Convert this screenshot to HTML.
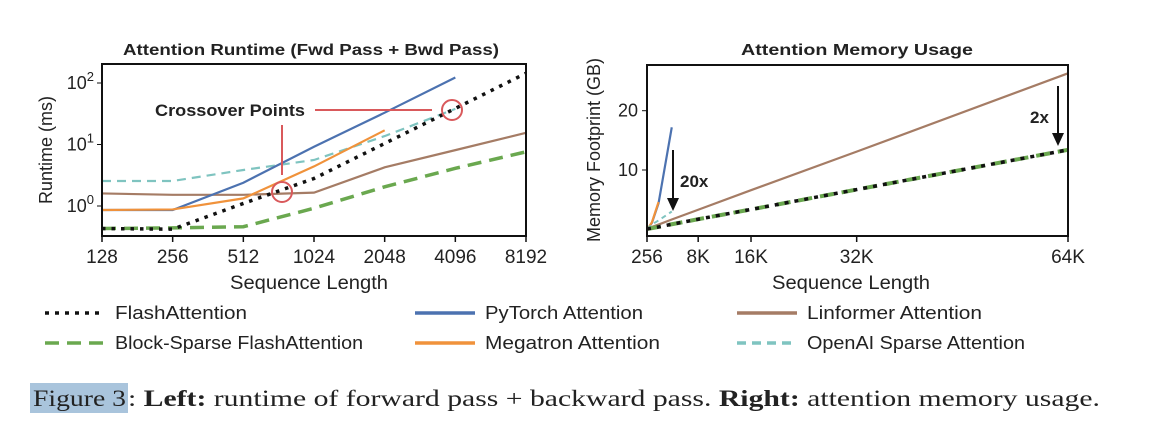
<!DOCTYPE html>
<html><head><meta charset="utf-8"><style>
body{margin:0;background:#fff;width:1150px;height:430px;overflow:hidden}
svg text{font-family:"Liberation Sans",sans-serif;fill:#222}
</style></head><body>
<svg width="1150" height="430" id="fig">
<text x="311" y="55" text-anchor="middle" font-weight="bold" font-size="16" textLength="376" lengthAdjust="spacingAndGlyphs">Attention Runtime (Fwd Pass + Bwd Pass)</text>
<text x="857" y="55" text-anchor="middle" font-weight="bold" font-size="16" textLength="232" lengthAdjust="spacingAndGlyphs">Attention Memory Usage</text>
<g id="L"></g><g id="R"></g>
<text x="309" y="289" text-anchor="middle" font-size="19" textLength="158" lengthAdjust="spacingAndGlyphs">Sequence Length</text>
<text x="851" y="289" text-anchor="middle" font-size="19" textLength="158" lengthAdjust="spacingAndGlyphs">Sequence Length</text>
<text transform="translate(52,150) rotate(-90)" text-anchor="middle" font-size="18">Runtime (ms)</text>
<text transform="translate(600,150) rotate(-90)" text-anchor="middle" font-size="18">Memory Footprint (GB)</text>
<g stroke="#d9595b" stroke-width="2" fill="none">
<line x1="315" y1="110" x2="432" y2="110"/><circle cx="452" cy="110" r="10"/>
<line x1="282" y1="125" x2="282" y2="175"/><circle cx="282" cy="192" r="10"/>
</g>
<text x="230" y="116" text-anchor="middle" font-weight="bold" font-size="17" textLength="150" lengthAdjust="spacingAndGlyphs">Crossover Points</text>
<g><line x1="673" y1="150" x2="673" y2="200" stroke="#111" stroke-width="2"/><path d="M667,198 L679,198 L673,211 Z" fill="#111"/></g>
<text x="680" y="187" font-weight="bold" font-size="17">20x</text>
<g><line x1="1058" y1="86" x2="1058" y2="135" stroke="#111" stroke-width="2"/><path d="M1052,133 L1064,133 L1058,146 Z" fill="#111"/></g>
<text x="1030" y="123" font-weight="bold" font-size="17">2x</text>
<g id="legend" font-size="18"></g>
<rect x="30" y="383" width="98" height="30" fill="#a9c4dc"/>
<text x="33" y="406" font-size="23" textLength="93" lengthAdjust="spacingAndGlyphs" style="font-family:'Liberation Serif',serif">Figure 3</text>
<text x="128" y="406" font-size="23" textLength="972" lengthAdjust="spacingAndGlyphs" style="font-family:'Liberation Serif',serif">: <tspan font-weight="bold">Left:</tspan> runtime of forward pass + backward pass. <tspan font-weight="bold">Right:</tspan> attention memory usage.</text>
</svg>
<script>
const NS="http://www.w3.org/2000/svg";
const seqL=[128,256,512,1024,2048,4096,8192];
const rtFlash=[0.43,0.42,1.1,2.8,10.4,38.6,144];
const rtBlock=[0.43,0.44,0.46,0.92,2.05,4.1,7.6];
const rtPytorch=[0.86,0.86,2.39,9.2,32.9,123];
const rtMegatron=[0.86,0.88,1.33,4.4,17];
const rtLinformer=[1.6,1.52,1.52,1.65,4.25,8.1,15.5];
const rtOpenAI=[2.55,2.55,3.85,5.6,13.7,38];
const yTicksL=[0,1,2];
const memSeqK=[0.25,0.5,1,2,4,8,16,32,64];
const memFlash=[0.05,0.1,0.2,0.4,0.85,1.7,3.35,6.7,13.4];
const memBlock=[0.05,0.1,0.2,0.4,0.85,1.7,3.35,6.7,13.4];
const memLinformer=[0.1,0.2,0.4,0.8,1.65,3.3,6.6,13.1,26.3];
const memPytorch=[0.1,0.3,1.1,4.4,17.2];
const memMegatron=[0.1,0.3,1.2,4.6];
const memOpenAI=[0.1,0.3,0.8,1.5,3.0];
const xTicksR=[0.25,8,16,32,64];
const xTickLabR=["256","8K","16K","32K","64K"];
const yTicksR=[10,20];
const C={flash:"#111",block:"#6aa84f",py:"#4c72b0",meg:"#f0923b",lin:"#a57c65",oai:"#7fc4c0"};
function el(t,a,p){const e=document.createElementNS(NS,t);for(const k in a)e.setAttribute(k,a[k]);p.appendChild(e);return e;}
const Lx0=102,Lx1=526,Ly0=64,Ly1=236;
const lx=v=>Lx0+(Math.log2(v)-7)/6*(Lx1-Lx0);
const ly=v=>206-Math.log10(v)*61.5;
const L=document.getElementById('L');
function line(g,xs,ys,fx,fy,col,w,dash,name){const p=xs.slice(0,ys.length).map((x,i)=>fx(x)+","+fy(ys[i])).join(" ");
 const e=el('polyline',{points:p,fill:"none",stroke:col,"stroke-width":w},g);if(dash)e.setAttribute('stroke-dasharray',dash);
 
 return e;}
line(L,seqL,rtOpenAI,lx,ly,C.oai,2.2,"9,6","left-openai-line");
line(L,seqL,rtLinformer,lx,ly,C.lin,2.2,null,"left-linformer-line");
line(L,seqL,rtPytorch,lx,ly,C.py,2.2,null,"left-pytorch-line");
line(L,seqL,rtMegatron,lx,ly,C.meg,2.2,null,"left-megatron-line");
line(L,seqL,rtBlock,lx,ly,C.block,3.5,"14,8","left-blocksparse-line");
line(L,seqL,rtFlash,lx,ly,C.flash,3.5,"3.5,6","left-flash-line");
const lb=el('rect',{x:Lx0,y:Ly0,width:Lx1-Lx0,height:Ly1-Ly0,fill:"none",stroke:"#111","stroke-width":2},L);


seqL.forEach(v=>{el('line',{x1:lx(v),y1:Ly1,x2:lx(v),y2:Ly1+6,stroke:"#111","stroke-width":1.5},L);
 const t=el('text',{x:lx(v),y:Ly1+27,"text-anchor":"middle","font-size":19},L);t.textContent=v;
 
 });
yTicksL.forEach(d=>{const y=ly(Math.pow(10,d));el('line',{x1:Lx0-5,y1:y,x2:Lx0,y2:y,stroke:"#111"},L);
 const t=el('text',{x:Lx0-8,y:y+6,"text-anchor":"end","font-size":18},L);t.innerHTML='10<tspan dy="-8" font-size="13">'+d+'</tspan>';
 
 });
const Rx0=647,Rx1=1068,Ry0=65,Ry1=236;
const rx=v=>Rx0+(v-0.25)/(64-0.25)*(Rx1-Rx0);
const ry=v=>229.3-v*5.93;
const R=document.getElementById('R');
line(R,memSeqK,memLinformer,rx,ry,C.lin,2.2,null,"right-linformer-line");
line(R,memSeqK,memPytorch,rx,ry,C.py,2.2,null,"right-pytorch-line");
line(R,memSeqK,memMegatron,rx,ry,C.meg,2.2,null,"right-megatron-line");
line(R,memSeqK,memOpenAI,rx,ry,C.oai,2,"5,4","right-openai-line");
line(R,memSeqK,memBlock,rx,ry,C.block,4,"14,8","right-blocksparse-line");
line(R,memSeqK,memFlash,rx,ry,C.flash,3.5,"4,6","right-flash-line");
const rb=el('rect',{x:Rx0,y:Ry0,width:Rx1-Rx0,height:Ry1-Ry0,fill:"none",stroke:"#111","stroke-width":2},R);


xTicksR.forEach((v,i)=>{el('line',{x1:rx(v),y1:Ry1,x2:rx(v),y2:Ry1+6,stroke:"#111","stroke-width":1.5},R);
 const t=el('text',{x:rx(v),y:Ry1+27,"text-anchor":"middle","font-size":19},R);t.textContent=xTickLabR[i];
 
 });
yTicksR.forEach(v=>{el('line',{x1:Rx0-5,y1:ry(v),x2:Rx0,y2:ry(v),stroke:"#111"},R);
 const t=el('text',{x:Rx0-9,y:ry(v)+6,"text-anchor":"end","font-size":18},R);t.textContent=v;
 
 });
const G=document.getElementById('legend');
const leg=[["FlashAttention",C.flash,"4,6",3.5,45,313,132],["Block-Sparse FlashAttention",C.block,"14,8",3.5,45,343,248],
["PyTorch Attention",C.py,null,3.5,415,313,158],["Megatron Attention",C.meg,null,3.5,415,343,175],
["Linformer Attention",C.lin,null,3.5,737,313,175],["OpenAI Sparse Attention",C.oai,"9,6",3.5,737,343,218]];
leg.forEach(l=>{const g=el('g',{},G);
 
 const s=el('line',{x1:l[4],y1:l[5],x2:l[4]+60,y2:l[5],stroke:l[1],"stroke-width":l[3]},g);if(l[2])s.setAttribute('stroke-dasharray',l[2]);
 const t=el('text',{x:l[4]+70,y:l[5]+6,"font-size":18,textLength:l[6],lengthAdjust:"spacingAndGlyphs"},g);t.textContent=l[0];});
</script>
</body></html>
